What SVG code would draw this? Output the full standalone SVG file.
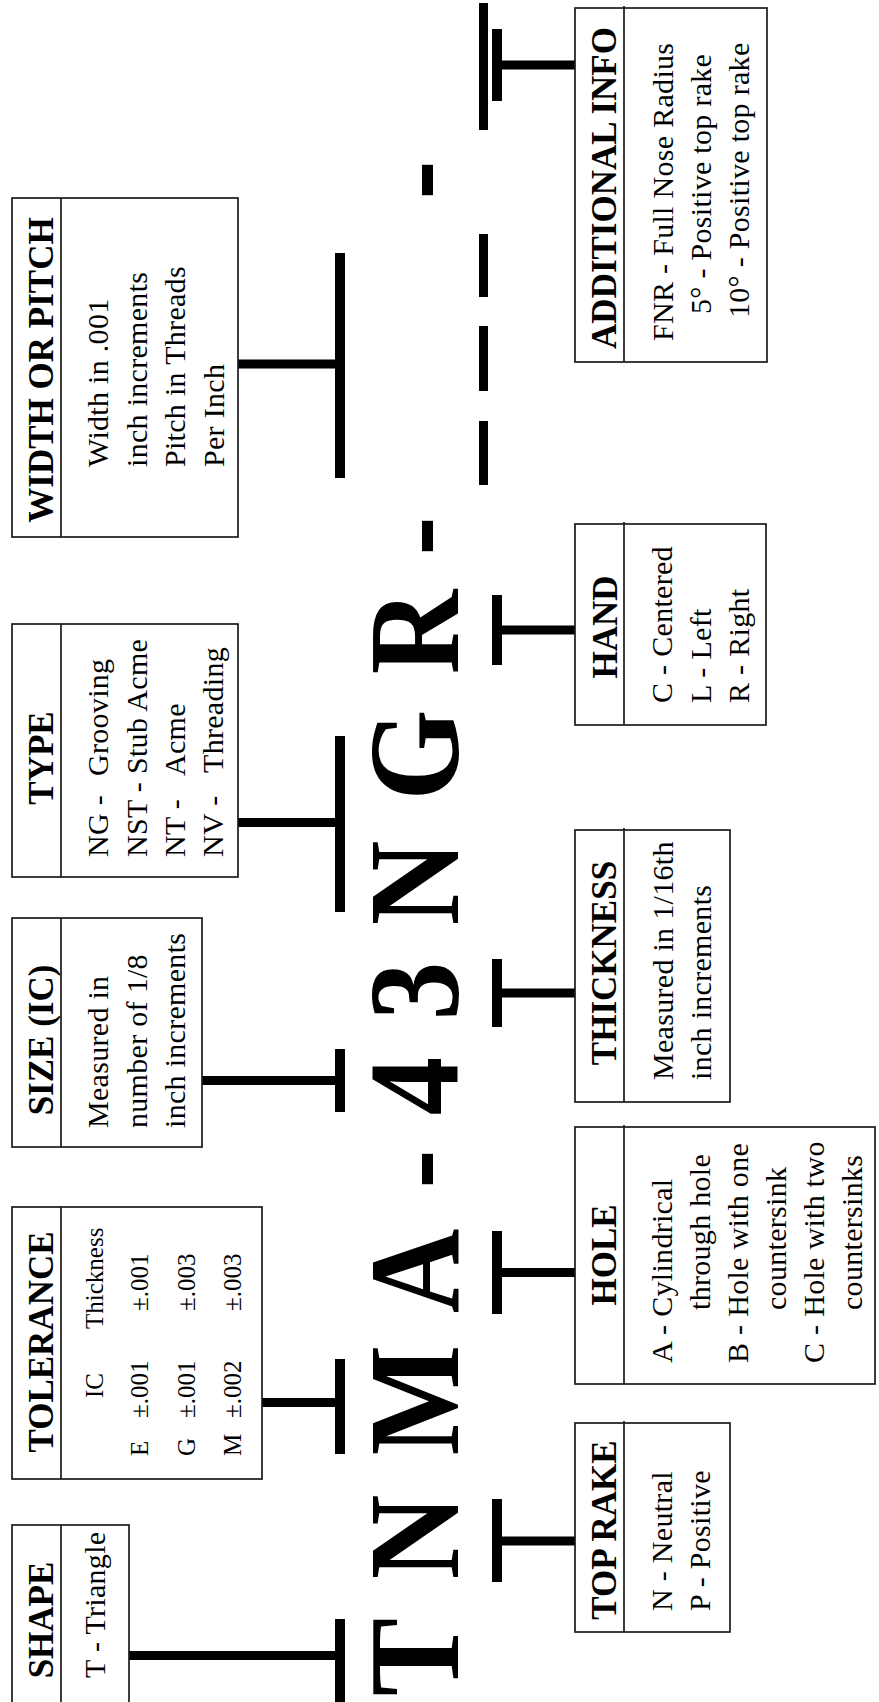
<svg xmlns="http://www.w3.org/2000/svg" width="879" height="1702" viewBox="0 0 879 1702">
<style>
.bg{fill:#fff}
.box{fill:#fff;stroke:#1a1a1a;stroke-width:1.7}
.dv{stroke:#1a1a1a;stroke-width:1.7}
.hd{font-family:"Liberation Serif","Times New Roman",serif;font-weight:bold;font-size:35px;text-anchor:middle;fill:#000}
.tx{font-family:"Liberation Serif","Times New Roman",serif;font-size:30px;letter-spacing:0.3px;fill:#000}
.tl{font-family:"Liberation Serif","Times New Roman",serif;font-size:25px;fill:#000}
.big{font-family:"Liberation Serif","Times New Roman",serif;font-weight:bold;font-size:130px;text-anchor:middle;fill:#000}
.bar{fill:#000}
</style>
<rect class="bg" x="0" y="0" width="879" height="1702"/>

<g id="code">
<text class="big" transform="translate(458,1657) rotate(-90) scale(0.9,1)">T</text>
<text class="big" transform="translate(458,1537) rotate(-90) scale(0.9,1)">N</text>
<text class="big" transform="translate(458,1400) rotate(-90) scale(0.9,1)">M</text>
<text class="big" transform="translate(458,1271) rotate(-90) scale(0.9,1)">A</text>
<text class="big" transform="translate(458,1169) rotate(-90) scale(0.9,1)">-</text>
<text class="big" transform="translate(458,1086) rotate(-90) scale(0.9,1)">4</text>
<text class="big" transform="translate(458,991) rotate(-90) scale(0.9,1)">3</text>
<text class="big" transform="translate(458,883) rotate(-90) scale(0.9,1)">N</text>
<text class="big" transform="translate(458,755) rotate(-90) scale(0.9,1)">G</text>
<text class="big" transform="translate(458,632) rotate(-90) scale(0.9,1)">R</text>
<text class="big" transform="translate(458,536) rotate(-90) scale(0.9,1)">-</text>
<text class="big" transform="translate(458,180) rotate(-90) scale(0.9,1)">-</text>
</g>

<g id="connectors">
<rect class="bar" x="335" y="253" width="10" height="225"/>
<rect class="bar" x="238" y="359.5" width="100" height="9"/>
<rect class="bar" x="335" y="736" width="10" height="176"/>
<rect class="bar" x="238" y="818" width="100" height="9"/>
<rect class="bar" x="335" y="1049" width="10" height="63"/>
<rect class="bar" x="202" y="1076" width="136" height="9"/>
<rect class="bar" x="335" y="1359" width="10" height="95"/>
<rect class="bar" x="262" y="1398" width="76" height="9"/>
<rect class="bar" x="335" y="1619" width="10" height="83"/>
<rect class="bar" x="129" y="1651" width="209" height="9"/>
<rect class="bar" x="492" y="29" width="10" height="72"/>
<rect class="bar" x="499" y="60.5" width="76" height="9"/>
<rect class="bar" x="492" y="595" width="10" height="70"/>
<rect class="bar" x="499" y="625.5" width="76" height="9"/>
<rect class="bar" x="492" y="959" width="10" height="68"/>
<rect class="bar" x="499" y="988.5" width="76" height="9"/>
<rect class="bar" x="492" y="1231" width="10" height="83"/>
<rect class="bar" x="499" y="1268" width="76" height="9"/>
<rect class="bar" x="492" y="1499" width="10" height="83"/>
<rect class="bar" x="499" y="1536.5" width="76" height="9"/>
<rect class="bar" x="479" y="3" width="9" height="127"/>
<rect class="bar" x="479" y="234" width="9" height="63"/>
<rect class="bar" x="479" y="326" width="9" height="65"/>
<rect class="bar" x="479" y="421" width="9" height="64"/>
</g>

<g id="width-or-pitch">
<rect class="box" x="12" y="198" width="226" height="339"/>
<line class="dv" x1="61" y1="198" x2="61" y2="537"/>
<g transform="rotate(-90)">
<text class="hd" x="-370" y="53">WIDTH OR PITCH</text>
<text class="tx" x="-467" y="108">Width in .001</text>
<text class="tx" x="-467" y="146.5">inch increments</text>
<text class="tx" x="-467" y="185">Pitch in Threads</text>
<text class="tx" x="-467" y="223.5">Per Inch</text>
</g>
</g>

<g id="type">
<rect class="box" x="12" y="624" width="226" height="253"/>
<line class="dv" x1="61" y1="624" x2="61" y2="877"/>
<g transform="rotate(-90)">
<text class="hd" x="-758" y="53">TYPE</text>
<text class="tx" x="-857" y="108">NG -<tspan x="-776">Grooving</tspan></text>
<text class="tx" x="-857" y="147">NST -<tspan x="-774">Stub Acme</tspan></text>
<text class="tx" x="-857" y="185">NT -<tspan x="-776">Acme</tspan></text>
<text class="tx" x="-857" y="223">NV -<tspan x="-773">Threading</tspan></text>
</g>
</g>

<g id="size">
<rect class="box" x="12" y="918" width="190" height="229"/>
<line class="dv" x1="61" y1="918" x2="61" y2="1147"/>
<g transform="rotate(-90)">
<text class="hd" x="-1040" y="53">SIZE (IC)</text>
<text class="tx" x="-1128" y="108">Measured in</text>
<text class="tx" x="-1128" y="147">number of 1/8</text>
<text class="tx" x="-1128" y="185">inch increments</text>
</g>
</g>

<g id="tolerance">
<rect class="box" x="12" y="1207" width="250" height="272"/>
<line class="dv" x1="61" y1="1207" x2="61" y2="1479"/>
<g transform="rotate(-90)">
<text class="hd" x="-1342" y="53">TOLERANCE</text>
<text class="tl" x="-1398" y="103">IC<tspan x="-1329">Thickness</tspan></text>
<text class="tl" x="-1456" y="148">E<tspan x="-1418">±.001</tspan><tspan x="-1311">±.001</tspan></text>
<text class="tl" x="-1456" y="195">G<tspan x="-1418">±.001</tspan><tspan x="-1311">±.003</tspan></text>
<text class="tl" x="-1456" y="241">M<tspan x="-1418">±.002</tspan><tspan x="-1311">±.003</tspan></text>
</g>
</g>

<g id="shape">
<rect class="box" x="12" y="1525" width="117" height="200"/>
<line class="dv" x1="61" y1="1525" x2="61" y2="1725"/>
<g transform="rotate(-90)">
<text class="hd" x="-1620" y="53">SHAPE</text>
<text class="tx" x="-1678" y="105">T - Triangle</text>
</g>
</g>

<g id="additional-info">
<rect class="box" x="575" y="8" width="192" height="354"/>
<line class="dv" x1="624" y1="6" x2="624" y2="362"/>
<g transform="rotate(-90)">
<text class="hd" x="-188" y="616">ADDITIONAL INFO</text>
<text class="tx" x="-341" y="673">FNR - Full Nose Radius</text>
<text class="tx" x="-314" y="711">5° - Positive top rake</text>
<text class="tx" x="-318" y="749">10° - Positive top rake</text>
</g>
</g>

<g id="hand">
<rect class="box" x="575" y="524" width="191" height="201"/>
<line class="dv" x1="624" y1="522" x2="624" y2="725"/>
<g transform="rotate(-90)">
<text class="hd" x="-627" y="617">HAND</text>
<text class="tx" x="-703" y="672">C - Centered</text>
<text class="tx" x="-703" y="711">L - Left</text>
<text class="tx" x="-703" y="749">R - Right</text>
</g>
</g>

<g id="thickness">
<rect class="box" x="575" y="830" width="155" height="272"/>
<line class="dv" x1="624" y1="828" x2="624" y2="1102"/>
<g transform="rotate(-90)">
<text class="hd" x="-963" y="616">THICKNESS</text>
<text class="tx" x="-1080" y="673">Measured in 1/16th</text>
<text class="tx" x="-1080" y="711">inch increments</text>
</g>
</g>

<g id="hole">
<rect class="box" x="575" y="1127" width="300" height="257"/>
<line class="dv" x1="624" y1="1125" x2="624" y2="1384"/>
<g transform="rotate(-90)">
<text class="hd" x="-1255" y="616">HOLE</text>
<text class="tx" x="-1363" y="672">A - Cylindrical</text>
<text class="tx" x="-1310" y="710">through hole</text>
<text class="tx" x="-1363" y="748">B - Hole with one</text>
<text class="tx" x="-1310" y="786">countersink</text>
<text class="tx" x="-1363" y="824">C - Hole with two</text>
<text class="tx" x="-1310" y="862">countersinks</text>
</g>
</g>

<g id="top-rake">
<rect class="box" x="575" y="1423" width="155" height="209"/>
<line class="dv" x1="624" y1="1421" x2="624" y2="1632"/>
<g transform="rotate(-90)">
<text class="hd" x="-1530" y="616">TOP RAKE</text>
<text class="tx" x="-1611" y="672">N - Neutral</text>
<text class="tx" x="-1611" y="710">P - Positive</text>
</g>
</g>
</svg>
